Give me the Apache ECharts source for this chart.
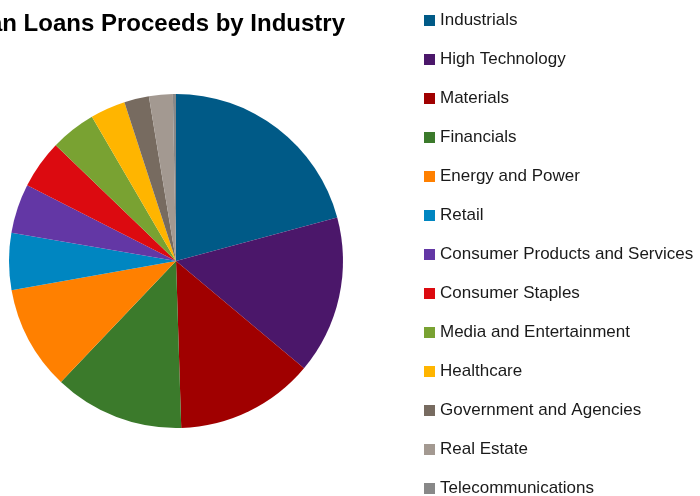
<!DOCTYPE html>
<html>
<head>
<meta charset="utf-8">
<script src="https://cdn.jsdelivr.net/npm/echarts@6/dist/echarts.min.js"></script>
<style>
  html, body { margin: 0; padding: 0; background: #ffffff; }
  #chart { width: 700px; height: 496px; }
</style>
</head>
<body>
<div id="chart"></div>
<script>
// Share of loan proceeds by industry (%)
const industries = [
  'Industrials', 'High Technology', 'Materials', 'Financials',
  'Energy and Power', 'Retail', 'Consumer Products and Services',
  'Consumer Staples', 'Media and Entertainment', 'Healthcare',
  'Government and Agencies', 'Real Estate', 'Telecommunications'
];
const shares = [20.8, 15.3, 13.4, 12.6, 10.1, 5.5, 4.8, 4.7, 4.4, 3.4, 2.4, 2.3, 0.3];
const palette = [
  '#005a87', '#4b176a', '#a00000', '#3b7a2b', '#ff8000', '#0086c1',
  '#6337a5', '#dc0a10', '#79a232', '#ffb500', '#776b60', '#a39991', '#888888'
];

const chart = echarts.init(document.getElementById('chart'), null, { renderer: 'canvas' });

chart.setOption({
  animation: false,
  backgroundColor: '#ffffff',
  color: palette,
  title: {
    text: 'Asian Loans Proceeds by Industry',
    right: 355,
    top: 12,
    padding: 0,
    textStyle: {
      fontFamily: 'Liberation Sans, Arial, sans-serif',
      fontWeight: 'bold',
      fontSize: 24,
      color: '#000000'
    }
  },
  legend: {
    orient: 'vertical',
    left: 424,
    top: 12,
    height: 495,
    padding: 0,
    itemWidth: 11,
    itemHeight: 11,
    itemGap: 22,
    icon: 'rect',
    textStyle: {
      fontFamily: 'Liberation Sans, Arial, sans-serif',
      fontSize: 17,
      color: '#1a1a1a'
    },
    data: industries
  },
  series: [{
    type: 'pie',
    center: [176, 261],
    radius: 167,
    startAngle: 90,
    clockwise: true,
    label: { show: false },
    labelLine: { show: false },
    emphasis: { disabled: true },
    itemStyle: { borderWidth: 0 },
    data: industries.map((name, i) => ({ name, value: shares[i] }))
  }]
});
</script>
</body>
</html>
